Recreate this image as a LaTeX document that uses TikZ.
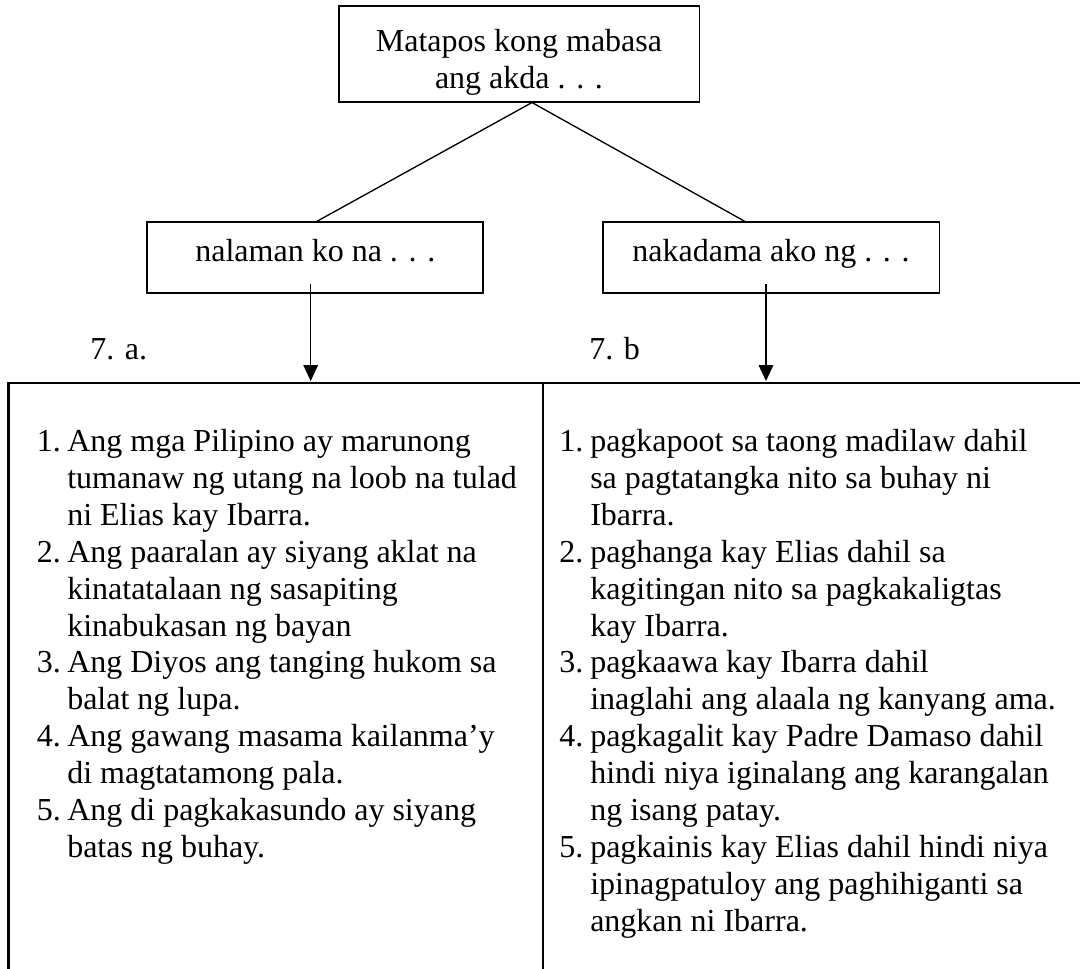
\documentclass[tikz,border=0pt]{standalone}
\usepackage{fontspec}
\setmainfont{Liberation Serif}
\usetikzlibrary{arrows.meta}
\begin{document}
\begin{tikzpicture}[x=0.75pt,y=-0.75pt,
  every node/.style={font=\fontsize{24}{27.45}\selectfont},
  box/.style={draw, line width=1.25pt, inner sep=0pt, text height=16.4pt, text depth=10.4pt},
  link/.style={line width=1pt},
  arr/.style={line width=1pt, -{Triangle[length=12pt,width=11pt]}},
  rule/.style={line width=2pt},
  ln/.style={anchor=base west, inner sep=0pt}
]
\useasboundingbox (0,0) rectangle (1080,968);
\clip (0,0) rectangle (1080,968);

\node[draw, line width=1.25pt, minimum width=270.5pt, minimum height=71.8pt, align=center, inner sep=0pt] (top) at (519,53.85) {\rule{0pt}{29.4pt}Matapos kong mabasa\\ang akda . . .};
\node[box, minimum width=252pt, minimum height=53.25pt] (know) at (315.3,257.8) {nalaman ko na . . .};
\node[box, minimum width=252.5pt, minimum height=53.25pt] (feel) at (771,257.8) {nakadama ako ng . . .};

\draw[link] ([xshift=9.75pt]top.south) -- ([xshift=1pt]know.north);
\draw[link] ([xshift=9.75pt]top.south) -- ([xshift=-19.5pt]feel.north);

\coordinate (ka) at (310.7,381);
\coordinate (kb) at (766,381);
\draw[arr] ([xshift=-3.45pt,yshift=7.7pt]know.south) -- (ka);
\draw[arr] ([xshift=-3.75pt,yshift=7.7pt]feel.south) -- (kb);

\node[ln] (la) at (90,359.3) {7. a.};
\node[ln] (lb) at (589,359.3) {7. b};

\draw[rule] (8.7,975) -- (8.7,383) -- (1085,383);
\draw[rule] (543,383) -- (543,975);

\foreach \k/\t in {0/1.,3/2.,6/3.,8/4.,10/5.}
  \node[ln] (LN\k) at (36.7,451.5+36.9*\k) {\t};
\foreach \k/\t in {0/Ang mga Pilipino ay marunong,
                   1/tumanaw ng utang na loob na tulad,
                   2/ni Elias kay Ibarra.,
                   3/Ang paaralan ay siyang aklat na,
                   4/kinatatalaan ng sasapiting,
                   5/kinabukasan ng bayan,
                   6/Ang Diyos ang tanging hukom sa,
                   7/balat ng lupa.,
                   8/Ang gawang masama kailanma’y,
                   9/di magtatamong pala.,
                   10/Ang di pagkakasundo ay siyang,
                   11/batas ng buhay.}
  \node[ln] (L\k) at (67,451.5+36.9*\k) {\t};

\foreach \k/\t in {0/1.,3/2.,6/3.,8/4.,11/5.}
  \node[ln] (RN\k) at (559,451.5+36.9*\k) {\t};
\foreach \k/\t in {0/pagkapoot sa taong madilaw dahil,
                   1/sa pagtatangka nito sa buhay ni,
                   2/Ibarra.,
                   3/paghanga kay Elias dahil sa,
                   4/kagitingan nito sa pagkakaligtas,
                   5/kay Ibarra.,
                   6/pagkaawa kay Ibarra dahil,
                   7/inaglahi ang alaala ng kanyang ama.,
                   8/pagkagalit kay Padre Damaso dahil,
                   9/hindi niya iginalang ang karangalan,
                   10/ng isang patay.,
                   11/pagkainis kay Elias dahil hindi niya,
                   12/ipinagpatuloy ang paghihiganti sa,
                   13/angkan ni Ibarra.}
  \node[ln] (R\k) at (590,451.5+36.9*\k) {\t};
\end{tikzpicture}
\end{document}
